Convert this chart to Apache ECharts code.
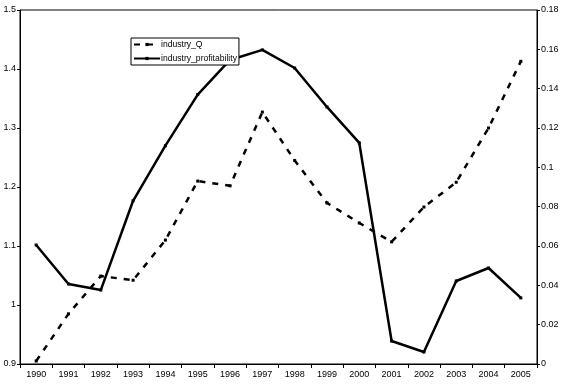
<!DOCTYPE html>
<html><head><meta charset="utf-8">
<script src="https://cdn.jsdelivr.net/npm/echarts@6/dist/echarts.min.js"></script>
<style>html,body{margin:0;padding:0;background:#fff}#c{width:562px;height:385px}</style>
</head><body><div id="c"></div>
<script>
const years = ['1990','1991','1992','1993','1994','1995','1996','1997','1998','1999','2000','2001','2002','2003','2004','2005'];
const industryQ = [0.905,0.985,1.049,1.042,1.110,1.210,1.202,1.327,1.245,1.173,1.139,1.107,1.166,1.208,1.300,1.413];
const industryProfitability = [0.0605,0.0407,0.0376,0.083,0.111,0.137,0.1546,0.1597,0.1505,0.1307,0.1124,0.0117,0.0061,0.0422,0.0488,0.0336];
const leftTicks = {min:0.9, max:1.5, interval:0.1};
const rightTicks = {min:0, max:0.18, interval:0.02};

const chart = echarts.init(document.getElementById('c'));
const font = 'Liberation Sans, Arial, sans-serif';
const axisLine = {show:true, lineStyle:{color:'#000', width:1}};
chart.setOption({
  animation:false,
  backgroundColor:'#fff',
  grid:{left:20, right:25, top:10, bottom:21, containLabel:false, show:true, borderColor:'#000', borderWidth:1},
  legend:{
    left:131, top:38, orient:'vertical', itemGap:5, itemWidth:26, itemHeight:4,
    borderColor:'#000', borderWidth:1, padding:[2,2,2,2], backgroundColor:'#fff',
    textStyle:{fontFamily:font, fontSize:8.6, color:'#000', padding:[0,0,0,-4]},
    data:['industry_Q','industry_profitability']
  },
  xAxis:{
    type:'category', data:years, boundaryGap:true,
    axisLine:axisLine,
    axisTick:{show:true, inside:false, length:4, lineStyle:{color:'#000'}},
    axisLabel:{fontFamily:font, fontSize:9, color:'#000', margin:6},
    splitLine:{show:false}
  },
  yAxis:[
    {type:'value', min:leftTicks.min, max:leftTicks.max, interval:leftTicks.interval,
     axisLine:axisLine, axisTick:{show:true, length:3, lineStyle:{color:'#000'}},
     axisLabel:{fontFamily:font, fontSize:9, color:'#000', margin:4,
       formatter:v=>String(Math.round(v*10)/10)},
     splitLine:{show:false}},
    {type:'value', min:rightTicks.min, max:rightTicks.max, interval:rightTicks.interval,
     position:'right',
     axisLine:axisLine, axisTick:{show:true, length:3, lineStyle:{color:'#000'}},
     axisLabel:{fontFamily:font, fontSize:9, color:'#000', margin:4,
       formatter:v=>String(Math.round(v*100)/100)},
     splitLine:{show:false}}
  ],
  series:[
    {name:'industry_Q', type:'line', yAxisIndex:0, data:industryQ,
     symbol:'rect', symbolSize:[3,3], showSymbol:true,
     itemStyle:{color:'#000'},
     lineStyle:{color:'#000', width:2.5, type:[6,7]}},
    {name:'industry_profitability', type:'line', yAxisIndex:1, data:industryProfitability,
     symbol:'rect', symbolSize:[3,3], showSymbol:true,
     itemStyle:{color:'#000'},
     lineStyle:{color:'#000', width:2.5}}
  ]
});
</script></body></html>
